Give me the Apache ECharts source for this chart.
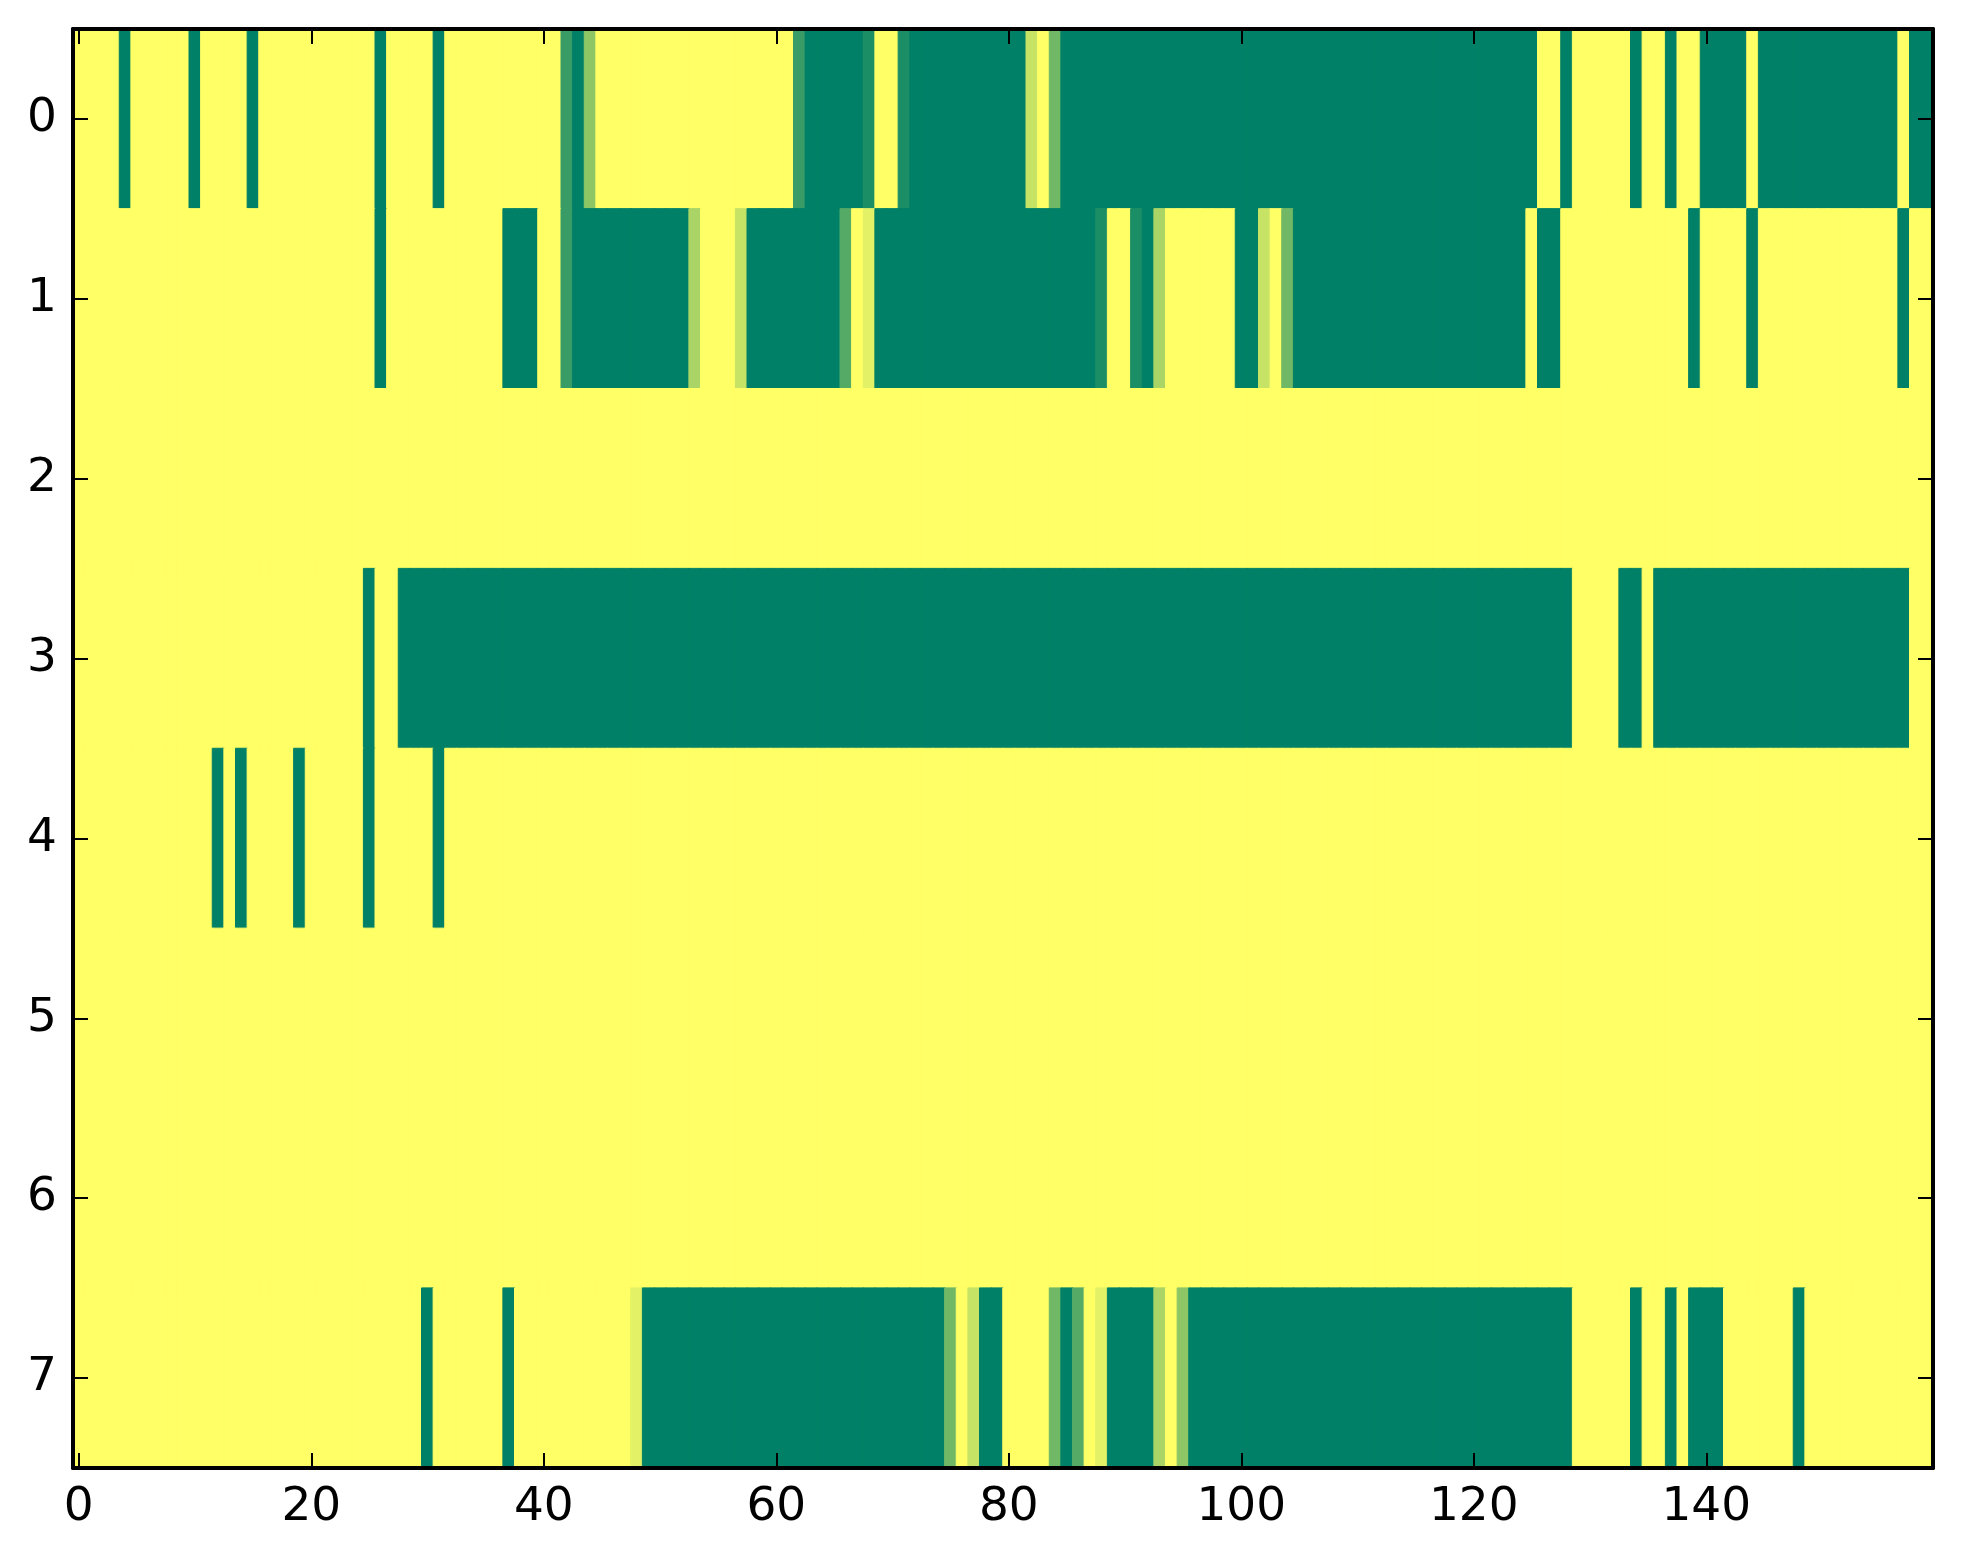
<!DOCTYPE html>
<html>
<head>
<meta charset="utf-8">
<script src="https://cdn.jsdelivr.net/npm/echarts@6/dist/echarts.min.js"></script>
<style>
html,body{margin:0;padding:0;background:#fff;}
#chart{width:1963px;height:1564px;}
</style>
</head>
<body>
<div id="chart"></div>
<script>
// Shade level per cell, 0 = yellow (low) ... 9 = dark green (high); one digit per column, 160 columns.
const row0 = ["0000900000","9000090000","0000009000","0900000000","0079400000","0000000000","0079999980","0899999999",
              "9920599999","9999999999","9999999999","9999999999","9999990090","0000900900","9999099999","9999999099"].join('');
const row1 = ["0000000000","0000000000","0000009000","0000000999","0079999999","9993000299","9999996019","9999999999",
              "9999999980","0893000000","9920599999","9999999999","9999909900","0000000009","0000900000","0000000900"].join('');
const row2 = ["0000000000","0000000000","0000000000","0000000000","0000000000","0000000000","0000000000","0000000000",
              "0000000000","0000000000","0000000000","0000000000","0000000000","0000000000","0000000000","0000000000"].join('');
const row3 = ["0000000000","0000000000","0000090099","9999999999","9999999999","9999999999","9999999999","9999999999",
              "9999999999","9999999999","9999999999","9999999999","9999999990","0009909999","9999999999","9999999900"].join('');
const row4 = ["0000000000","0090900009","0000090000","0900000000","0000000000","0000000000","0000000000","0000000000",
              "0000000000","0000000000","0000000000","0000000000","0000000000","0000000000","0000000000","0000000000"].join('');
const row5 = ["0000000000","0000000000","0000000000","0000000000","0000000000","0000000000","0000000000","0000000000",
              "0000000000","0000000000","0000000000","0000000000","0000000000","0000000000","0000000000","0000000000"].join('');
const row6 = ["0000000000","0000000000","0000000000","0000000000","0000000000","0000000000","0000000000","0000000000",
              "0000000000","0000000000","0000000000","0000000000","0000000000","0000000000","0000000000","0000000000"].join('');
const row7 = ["0000000000","0000000000","0000000000","9000000900","0000000019","9999999999","9999999999","9999950299",
              "0000596019","9993049999","9999999999","9999999999","9999999990","0000900909","9900000090","0000000000"].join('');

const rows = [row0, row1, row2, row3, row4, row5, row6, row7];
const nCols = 160;
const colCategories = Array.from({length: nCols}, (_, i) => String(i));
const rowCategories = ["0","1","2","3","4","5","6","7"];
const xTickStep = 20;

// reversed "summer" colour map: value 0 -> yellow, value 1 -> green
function summerR(v) {
  const t = 1 - v;
  const r = Math.round(255 * t);
  const g = Math.round(255 * (0.5 + t / 2));
  const b = Math.round(255 * 0.4);
  return 'rgb(' + r + ',' + g + ',' + b + ')';
}

const data = [];
rows.forEach((r, y) => {
  for (let x = 0; x < nCols; x++) {
    const v = Number(r[x] || 0) / 9;
    const c = summerR(v);
    data.push({value: [x, y, v], itemStyle: {color: c, borderColor: c, borderWidth: 1}});
  }
});

const font = {fontFamily: 'DejaVu Sans', fontSize: 47, color: '#000'};
const lineStyle = {color: '#000', width: 4};
const tickStyle = {color: '#000', width: 2};

const xBase = {
  type: 'category', data: colCategories, boundaryGap: true, z: 10,
  axisLine: {show: true, onZero: false, lineStyle: lineStyle},
  axisTick: {show: true, inside: true, length: 15, alignWithLabel: true,
             interval: (i) => i % xTickStep === 0, lineStyle: tickStyle},
  splitLine: {show: false}
};
const yBase = {
  type: 'category', data: rowCategories, inverse: true, boundaryGap: true, z: 10,
  axisLine: {show: true, onZero: false, lineStyle: lineStyle},
  axisTick: {show: true, inside: true, length: 15, alignWithLabel: true, interval: 0, lineStyle: tickStyle},
  splitLine: {show: false}
};

const chart = echarts.init(document.getElementById('chart'), null, {renderer: 'canvas'});
chart.setOption({
  animation: false,
  backgroundColor: '#fff',
  grid: {left: 73, top: 29, width: 1860, height: 1439, containLabel: false},
  xAxis: [
    Object.assign({}, xBase, {position: 'bottom',
      axisLabel: Object.assign({show: true, margin: 16, interval: (i) => i % xTickStep === 0}, font)}),
    Object.assign({}, xBase, {position: 'top', axisLabel: {show: false}})
  ],
  yAxis: [
    Object.assign({}, yBase, {position: 'left',
      axisLabel: Object.assign({show: true, margin: 16, interval: 0}, font)}),
    Object.assign({}, yBase, {position: 'right', axisLabel: {show: false}})
  ],
  series: [{
    type: 'heatmap', xAxisIndex: 0, yAxisIndex: 0, data: data,
    emphasis: {disabled: true}
  }]
});
</script>
</body>
</html>
